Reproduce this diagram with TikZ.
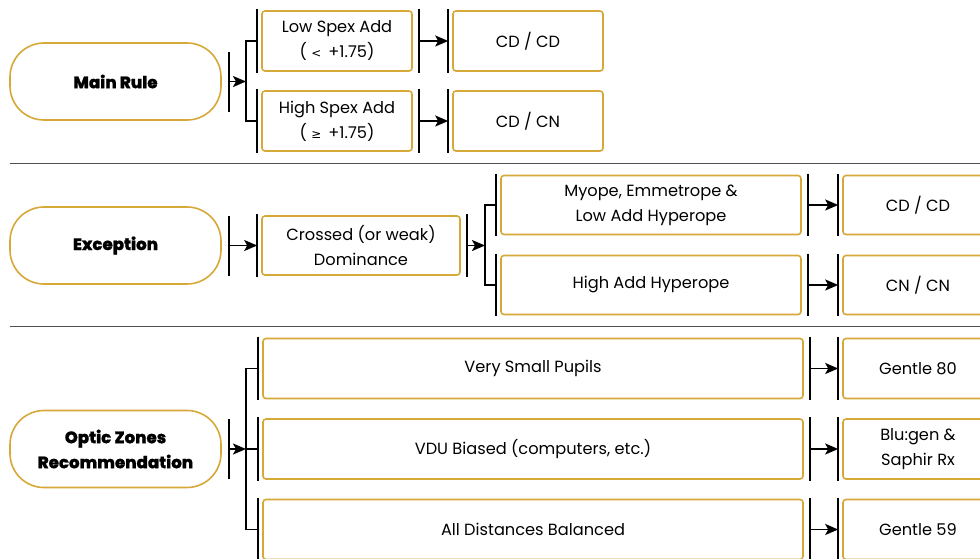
\documentclass[tikz,border=0pt]{standalone}
\usepackage{fontspec}
\setmainfont{Poppins}
\IfFontExistsTF{Poppins ExtraBold}
 {\newfontfamily\heavyfont{Poppins ExtraBold}[FakeBold=1]}
 {\newfontfamily\heavyfont{Poppins}[UprightFont={* Bold},FakeBold=4]}
\newfontfamily\symfont{DejaVu Sans}
\usetikzlibrary{arrows.meta}
\definecolor{gold}{HTML}{D6A838}
\definecolor{sepgray}{HTML}{505050}
\newcommand{\myLbar}[1]{\draw[bar] ([xshift=-4pt,yshift=1pt]#1.north west) -- ([xshift=-4pt,yshift=-1pt]#1.south west);}
\newcommand{\myRbar}[1]{\draw[bar] ([xshift=6pt,yshift=1pt]#1.north east) -- ([xshift=6pt,yshift=-1pt]#1.south east);}
\begin{document}
\begin{tikzpicture}[x=1pt,y=-1pt,
 pill/.style={draw=gold,line width=1.6pt,rounded corners=34pt,minimum width=211pt,minimum height=77pt,align=center,font=\fontsize{16.6}{25}\selectfont\heavyfont,inner sep=0pt},
 box/.style={draw=gold,line width=1.6pt,rounded corners=3pt,align=center,font=\fontsize{16.2}{25}\selectfont,inner sep=0pt,minimum height=60pt},
 bar/.style={line width=2pt},
 conn/.style={line width=1.9pt},
 arr/.style={conn,-{Stealth[length=13pt,width=11pt,inset=3pt]}},
]
\useasboundingbox (0,0) rectangle (980,558);
\clip (0,0) rectangle (980,558);

% separators
\draw[sepgray,line width=1pt] (10,163) -- (980,163);
\draw[sepgray,line width=1pt] (10,326) -- (980,326);

% ---------- Section 1
\node[pill] (main) at (115.5,81.5) {Main Rule};
\node[box,minimum width=150pt] (low) at (337,41) {Low Spex Add\\( {\symfont\fontsize{12}{12}\selectfont <}\,  +1.75)};
\node[box,minimum width=150pt] (high) at (337,121) {High Spex Add\\( {\symfont\fontsize{12}{12}\selectfont ≥}\,  +1.75)};
\node[box,minimum width=150pt] (cdcd1) at (528,41) {CD / CD};
\node[box,minimum width=150pt] (cdcn) at (528,121) {CD / CN};
\coordinate (b1) at (246,81.5);

\draw[bar] ([xshift=7pt]main.east) ++(0,-30) -- ++(0,60);
\draw[arr] ([xshift=7pt]main.east) -- (b1);
\draw[conn] ([xshift=-4pt]low.west) -| (b1) |- ([xshift=-4pt]high.west);
\foreach \n in {low,high,cdcd1,cdcn} {\myLbar{\n}}
\foreach \n in {low,high} {\myRbar{\n}}
\draw[arr] ([xshift=6pt]low.east) -- ([xshift=-4pt]cdcd1.west);
\draw[arr] ([xshift=6pt]high.east) -- ([xshift=-4pt]cdcn.west);

% ---------- Section 2
\node[pill] (exc) at (115.5,245.5) {Exception};
\node[box,minimum width=198pt,minimum height=59pt] (cross) at (361,245.5) {Crossed (or weak)\\Dominance};
\node[box,minimum width=300pt,minimum height=59pt] (myo) at (651,205) {Myope, Emmetrope \&\\Low Add Hyperope};
\node[box,minimum width=300pt,minimum height=59pt] (hah) at (651,285) {High Add Hyperope};
\node[box,minimum width=150pt,minimum height=59pt] (cdcd2) at (918,205) {CD / CD};
\node[box,minimum width=150pt,minimum height=59pt] (cncn) at (918,285) {CN / CN};
\coordinate (b2) at (485,245.5);

\draw[bar] ([xshift=7pt]exc.east) ++(0,-30) -- ++(0,60);
\draw[arr] ([xshift=7pt]exc.east) -- ([xshift=-4pt]cross.west);
\foreach \n in {cross,myo,hah,cdcd2,cncn} {\myLbar{\n}}
\foreach \n in {cross,myo,hah} {\myRbar{\n}}
\draw[arr] ([xshift=6pt]cross.east) -- (b2);
\draw[conn] ([xshift=-4pt]myo.west) -| (b2) |- ([xshift=-4pt]hah.west);
\draw[arr] ([xshift=6pt]myo.east) -- ([xshift=-4pt]cdcd2.west);
\draw[arr] ([xshift=6pt]hah.east) -- ([xshift=-4pt]cncn.west);

% ---------- Section 3
\node[pill] (opt) at (115.5,449) {Optic Zones\\Recommendation};
\node[box,minimum width=540pt] (vsp) at (533,368.5) {Very Small Pupils};
\node[box,minimum width=540pt] (vdu) at (533,449) {VDU Biased (computers, etc.)};
\node[box,minimum width=540pt] (adb) at (533,529.5) {All Distances Balanced};
\node[box,minimum width=150pt] (g80) at (918,368.5) {Gentle 80};
\node[box,minimum width=150pt] (blu) at (918,449) {Blu:gen \&\\Saphir Rx};
\node[box,minimum width=150pt] (g59) at (918,529.5) {Gentle 59};
\coordinate (b3) at (246,449);

\draw[bar] ([xshift=7pt]opt.east) ++(0,-30) -- ++(0,60);
\draw[arr] ([xshift=7pt]opt.east) -- (b3);
\draw[conn] ([xshift=-4pt]vsp.west) -| (b3) |- ([xshift=-4pt]adb.west);
\draw[conn] (b3) -- ([xshift=-4pt]vdu.west);
\foreach \n in {vsp,vdu,adb,g80,blu,g59} {\myLbar{\n}}
\foreach \n in {vsp,vdu,adb} {\myRbar{\n}}
\draw[arr] ([xshift=6pt]vsp.east) -- ([xshift=-4pt]g80.west);
\draw[arr] ([xshift=6pt]vdu.east) -- ([xshift=-4pt]blu.west);
\draw[arr] ([xshift=6pt]adb.east) -- ([xshift=-4pt]g59.west);
\end{tikzpicture}
\end{document}
